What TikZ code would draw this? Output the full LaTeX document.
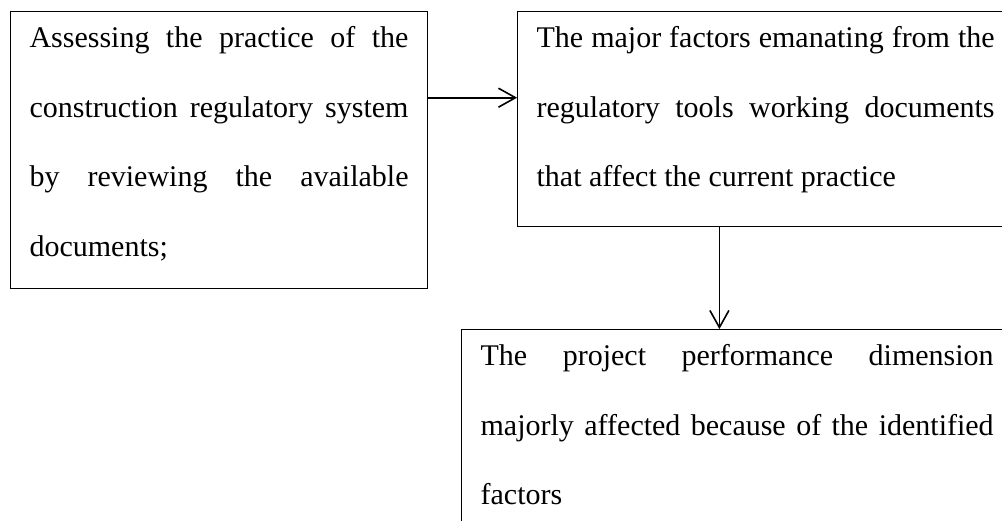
\documentclass[tikz,border=0pt]{standalone}
\usepackage{fontspec}
\setmainfont{Liberation Serif}
\usetikzlibrary{arrows.meta,positioning}
\newcommand\padtop{\rule{0pt}{36pt}}
\newcommand\padbot[1]{\rule[-#1]{0pt}{#1}}
\hyphenpenalty=10000
\begin{document}
\begin{tikzpicture}[
    font=\fontsize{30pt}{69.5pt}\selectfont,
    textbox/.style={
        draw, line width=1.1pt,
        align=justify, anchor=north west,
        inner xsep=19pt, inner ysep=0pt
    },
    arrow/.style={
        -{Straight Barb[length=17pt,width=19pt]}, line width=1.6pt
    }
]
\useasboundingbox (0,0) rectangle (1002pt,-520pt);
\clip (0,0) rectangle (1002pt,-520pt);

% --- three boxes ---
\node[textbox, text width=379pt] (assess) at (10pt,-11pt)
  {\padtop Assessing the practice of the\linebreak
   construction regulatory system\linebreak
   by reviewing the available\linebreak
   documents;\padbot{32.5pt}};
\node[textbox, text width=458pt, right=89pt of assess.north east, anchor=north west] (factors)
  {\padtop The major factors emanating from the\linebreak
   regulatory tools working documents\linebreak
   that affect the current practice\padbot{40pt}};
\node[textbox, text width=513pt, below=102pt of factors.south west, anchor=north west, xshift=-56pt] (dimension)
  {\padtop The project performance dimension\linebreak
   majorly affected because of the identified\linebreak
   factors\padbot{36pt}};

% --- arrows ---
\draw[arrow] ([yshift=-86.7pt]assess.north east) -- ([yshift=-86.7pt]factors.north west);
\draw[arrow] ([xshift=202.3pt]factors.south west) coordinate (down) -- (down |- dimension.north);

\end{tikzpicture}
\end{document}
